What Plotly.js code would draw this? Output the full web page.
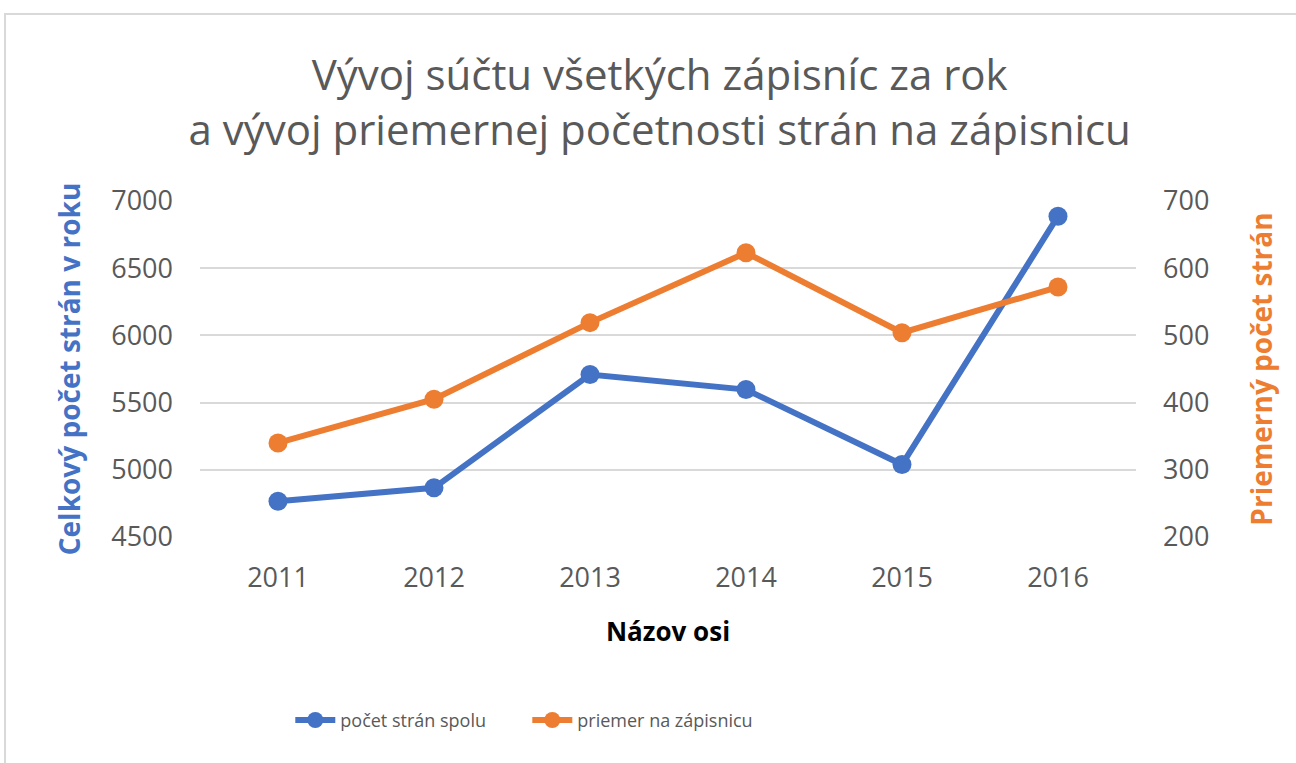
<!DOCTYPE html>
<html>
<head>
<meta charset="utf-8">
<script src="https://cdn.plot.ly/plotly-3.0.1.min.js"></script>
<style>
  html, body { margin: 0; padding: 0; background: #fff; }
  #chart { position: absolute; left: 0; top: 0; width: 1296px; height: 763px; }
  #frame { position: absolute; left: 4px; top: 13px; width: 1310px; height: 800px; border: 2px solid #d9d9d9; pointer-events: none; }
</style>
</head>
<body>
<div id="chart"></div>
<div id="frame"></div>
<script>
const years = ['2011', '2012', '2013', '2014', '2015', '2016'];
const totalPages = [4766, 4866, 5709, 5597, 5039, 6887];
const avgPages = [340, 405, 519, 623, 504, 572];
const seriesNames = ['počet strán spolu', 'priemer na zápisnicu'];
const leftTicks = [4500, 5000, 5500, 6000, 6500, 7000];
const rightTicks = [200, 300, 400, 500, 600, 700];

const blue = '#4472C4';
const orange = '#ED7D31';
const gray = '#595959';
const font = 'Open Sans, Noto Sans, sans-serif';

const traces = [
  {
    x: years, y: totalPages, name: seriesNames[0], type: 'scatter', mode: 'lines+markers',
    line: { color: blue, width: 6 }, marker: { color: blue, size: 19 }, yaxis: 'y'
  },
  {
    x: years, y: avgPages, name: seriesNames[1], type: 'scatter', mode: 'lines+markers',
    line: { color: orange, width: 6 }, marker: { color: orange, size: 19 }, yaxis: 'y2'
  }
];

const layout = {
  width: 1296, height: 763,
  margin: { l: 200, r: 160, t: 201, b: 226 },
  paper_bgcolor: '#ffffff', plot_bgcolor: '#ffffff',
  font: { family: font, color: gray },
  title: {
    text: 'Vývoj súčtu všetkých zápisníc za rok<br>a vývoj priemernej početnosti strán na zápisnicu',
    font: { family: font, size: 42, color: gray },
    x: 0.509, xanchor: 'center', xref: 'container',
    y: 0.882, yanchor: 'middle', yref: 'container'
  },
  xaxis: {
    type: 'category', range: [-0.5, 5.5],
    showgrid: false, zeroline: false, showline: false, ticks: '',
    tickfont: { size: 27, color: gray, family: font },
    ticklabelstandoff: 22,
    title: { text: 'Názov osi', font: { size: 26, color: '#000000', family: font, weight: 'bold' }, standoff: 28 }
  },
  yaxis: {
    range: [4500, 7000], tickvals: leftTicks, ticktext: leftTicks.map(String),
    showgrid: true, gridcolor: '#d9d9d9', gridwidth: 2, zeroline: false, showline: false, ticks: '',
    tickfont: { size: 27, color: gray, family: font },
    ticklabelstandoff: 26,
    title: { text: 'Celkový počet strán v roku', font: { size: 28, color: blue, family: font, weight: 'bold' }, standoff: 22 }
  },
  yaxis2: {
    overlaying: 'y', side: 'right',
    range: [200, 700], tickvals: rightTicks, ticktext: rightTicks.map(String),
    showgrid: false, zeroline: false, showline: false, ticks: '',
    tickfont: { size: 27, color: gray, family: font },
    ticklabelstandoff: 26,
    title: { text: 'Priemerný počet strán', font: { size: 28, color: orange, family: font, weight: 'bold' }, standoff: 44 }
  },
  showlegend: true,
  legend: {
    orientation: 'h', x: 0.224, xanchor: 'left', xref: 'container',
    y: 0.056, yanchor: 'middle', yref: 'container',
    font: { size: 18, color: gray, family: font },
    itemwidth: 40, tracegroupgap: 0, entrywidth: 182
  }
};

Plotly.newPlot('chart', traces, layout, { displayModeBar: false, staticPlot: true });
</script>
</body>
</html>
